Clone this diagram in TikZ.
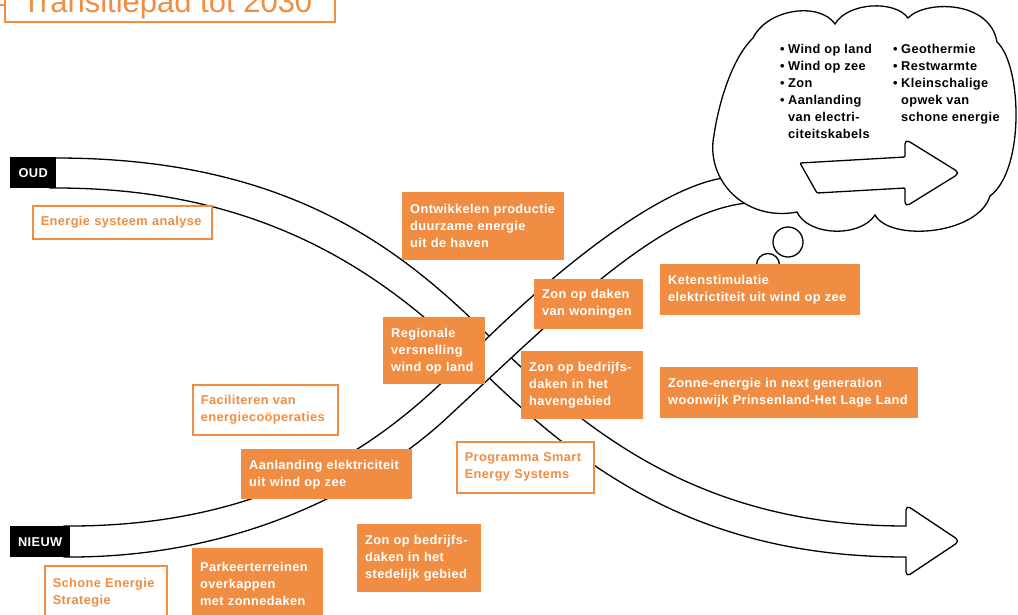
\documentclass[tikz,border=0pt]{standalone}
\usepackage{fontspec}
\setmainfont{Liberation Sans}
\newfontfamily\boxfont{Liberation Sans}[LetterSpace=3.0]
\usetikzlibrary{positioning}
\definecolor{oranje}{RGB}{240,141,66}

\begin{document}
\begin{tikzpicture}[x=1pt, y=-1pt,
                    band/.style={draw=black, fill=white, line width=1.3pt},
                    solidnode/.style={rectangle, fill=oranje, text=white, anchor=north west, inner xsep=8pt, inner ysep=0pt, align=left, font=\boxfont\bfseries\fontsize{12.8}{17}\selectfont},
                    opennode/.style={rectangle, draw=oranje, line width=1.6pt, fill=white, text=oranje, anchor=north west, inner xsep=8pt, inner ysep=0pt, align=left, font=\boxfont\bfseries\fontsize{12.8}{17}\selectfont},
                    tagnode/.style={rectangle, fill=black, text=white, anchor=north west, inner sep=0pt, font=\boxfont\bfseries\fontsize{12.8}{17}\selectfont},
                    cloudtext/.style={anchor=north west, inner sep=0pt, font=\boxfont\bfseries\fontsize{12.8}{17}\selectfont},
                   ]
  \useasboundingbox (0,0) rectangle (1018,614);
  \clip (0,0) rectangle (1018,614);

  %Bands
  \draw[band] (50,158) -- (56,158) .. controls (286,158) and (400,247) .. (490,337)
        .. controls (590,437) and (706,526) .. (906,526)
        [rounded corners=5pt] -- (906,505) -- (960,541) -- (906,577) [sharp corners] -- (906,557)
        .. controls (696,557) and (579,468) .. (469,358)
        .. controls (380,271) and (260,188) .. (56,188) -- (50,188) -- cycle;
  \draw[band] (64,526) -- (70,526) .. controls (300,526) and (410,415) .. (470,355)
        .. controls (560,265) and (660,188) .. (723,178) -- (762,172) -- (782,200) -- (747,203)
        .. controls (660,212) and (560,313) .. (450,415)
        .. controls (390,472) and (260,557) .. (70,557) -- (64,557) -- cycle;

  %Cloud
  \draw[band] (788,242) circle (15);
  \draw[band] (768,265) circle (11.5);
  \draw[band] (797,212)
        .. controls (745,222) and (705,180) .. (714,135)
        .. controls (720,95) and (735,55) .. (753,38)
        .. controls (768,8) and (820,2) .. (835,24)
        .. controls (848,2) and (895,0) .. (908,18)
        .. controls (925,0) and (990,0) .. (997,42)
        .. controls (1022,65) and (1025,170) .. (990,196)
        .. controls (978,235) and (890,242) .. (875,215)
        .. controls (860,238) and (808,236) .. (797,212) -- cycle;
  \draw[band, rounded corners=1pt] (800,163) -- (905,157) [rounded corners=5pt] -- (905,139) -- (960,173) -- (905,207) [rounded corners=1pt] -- (905,188) -- (817,193) -- cycle;

  %Nodes
  \node[cloudtext] (bronnen1) at (780,41.7) {\begin{tabular}{@{}l@{\hspace{3.5pt}}l@{}}
      •&Wind op land\\ •&Wind op zee\\ •&Zon\\ •&Aanlanding\\ &van electri-\\ &citeitskabels\end{tabular}};
  \node[cloudtext] (bronnen2) at (893,41.7) {\begin{tabular}{@{}l@{\hspace{3.5pt}}l@{}}
      •&Geothermie\\ •&Restwarmte\\ •&Kleinschalige\\ &opwek van\\ &schone energie\end{tabular}};

  \node[tagnode, minimum width=46pt, minimum height=31pt] (oud)   at (10,157) {OUD};
  \node[tagnode, minimum width=60pt, minimum height=31pt] (nieuw) at (10,526) {NIEUW};

  \node[opennode, text width=163pt, minimum height=33pt] (analyse)     at (32,205)  {Energie systeem analyse};
  \node[solidnode, text width=146pt, minimum height=68pt] (haven)      at (402,192) {Ontwikkelen productie\\duurzame energie\\uit de haven};
  \node[solidnode, text width=93pt, minimum height=50pt] (woningen)    at (534,279) {Zon op daken\\van woningen};
  \node[solidnode, text width=86pt, minimum height=67pt] (windland)    at (383,317) {Regionale\\versnelling\\wind op land};
  \node[solidnode, text width=106pt, minimum height=68pt] (havengebied) at (521,351) {Zon op bedrijfs-\\daken in het\\havengebied};
  \node[solidnode, text width=184pt, minimum height=51pt] (keten)      at (660,264) {Ketenstimulatie\\elektrictiteit uit wind op zee};
  \node[solidnode, text width=242pt, minimum height=51pt] (prinsenland) at (660,367) {Zonne-energie in next generation\\woonwijk Prinsenland-Het Lage Land};
  \node[opennode, text width=129pt, minimum height=50pt] (cooperaties) at (192,384) {Faciliteren van\\energiecoöperaties};
  \node[solidnode, text width=155pt, minimum height=50pt] (windzee)    at (241,449) {Aanlanding elektriciteit\\uit wind op zee};
  \node[opennode, text width=121pt, minimum height=51pt] (smart)       at (456,441) {Programma Smart\\Energy Systems};
  \node[solidnode, text width=108pt, minimum height=68pt] (stedelijk)  at (357,524) {Zon op bedrijfs-\\daken in het\\stedelijk gebied};
  \node[solidnode, text width=115pt, minimum height=71pt] (parkeer)    at (192,548) {Parkeerterreinen\\overkappen\\met zonnedaken};
  \node[opennode, text width=106pt, minimum height=54pt] (strategie)   at (44,565)  {Schone Energie\\Strategie};

  %Title
  \draw[oranje, line width=1.3pt] (0,5) -- (5,5);
  \draw[oranje, line width=1.3pt] (5,-20) rectangle (335,22);
  \node[anchor=base west, inner sep=0pt, text=oranje, font=\fontsize{31}{31}\selectfont] (titel) at (22,12) {Transitiepad tot 2030};
\end{tikzpicture}
\end{document}
